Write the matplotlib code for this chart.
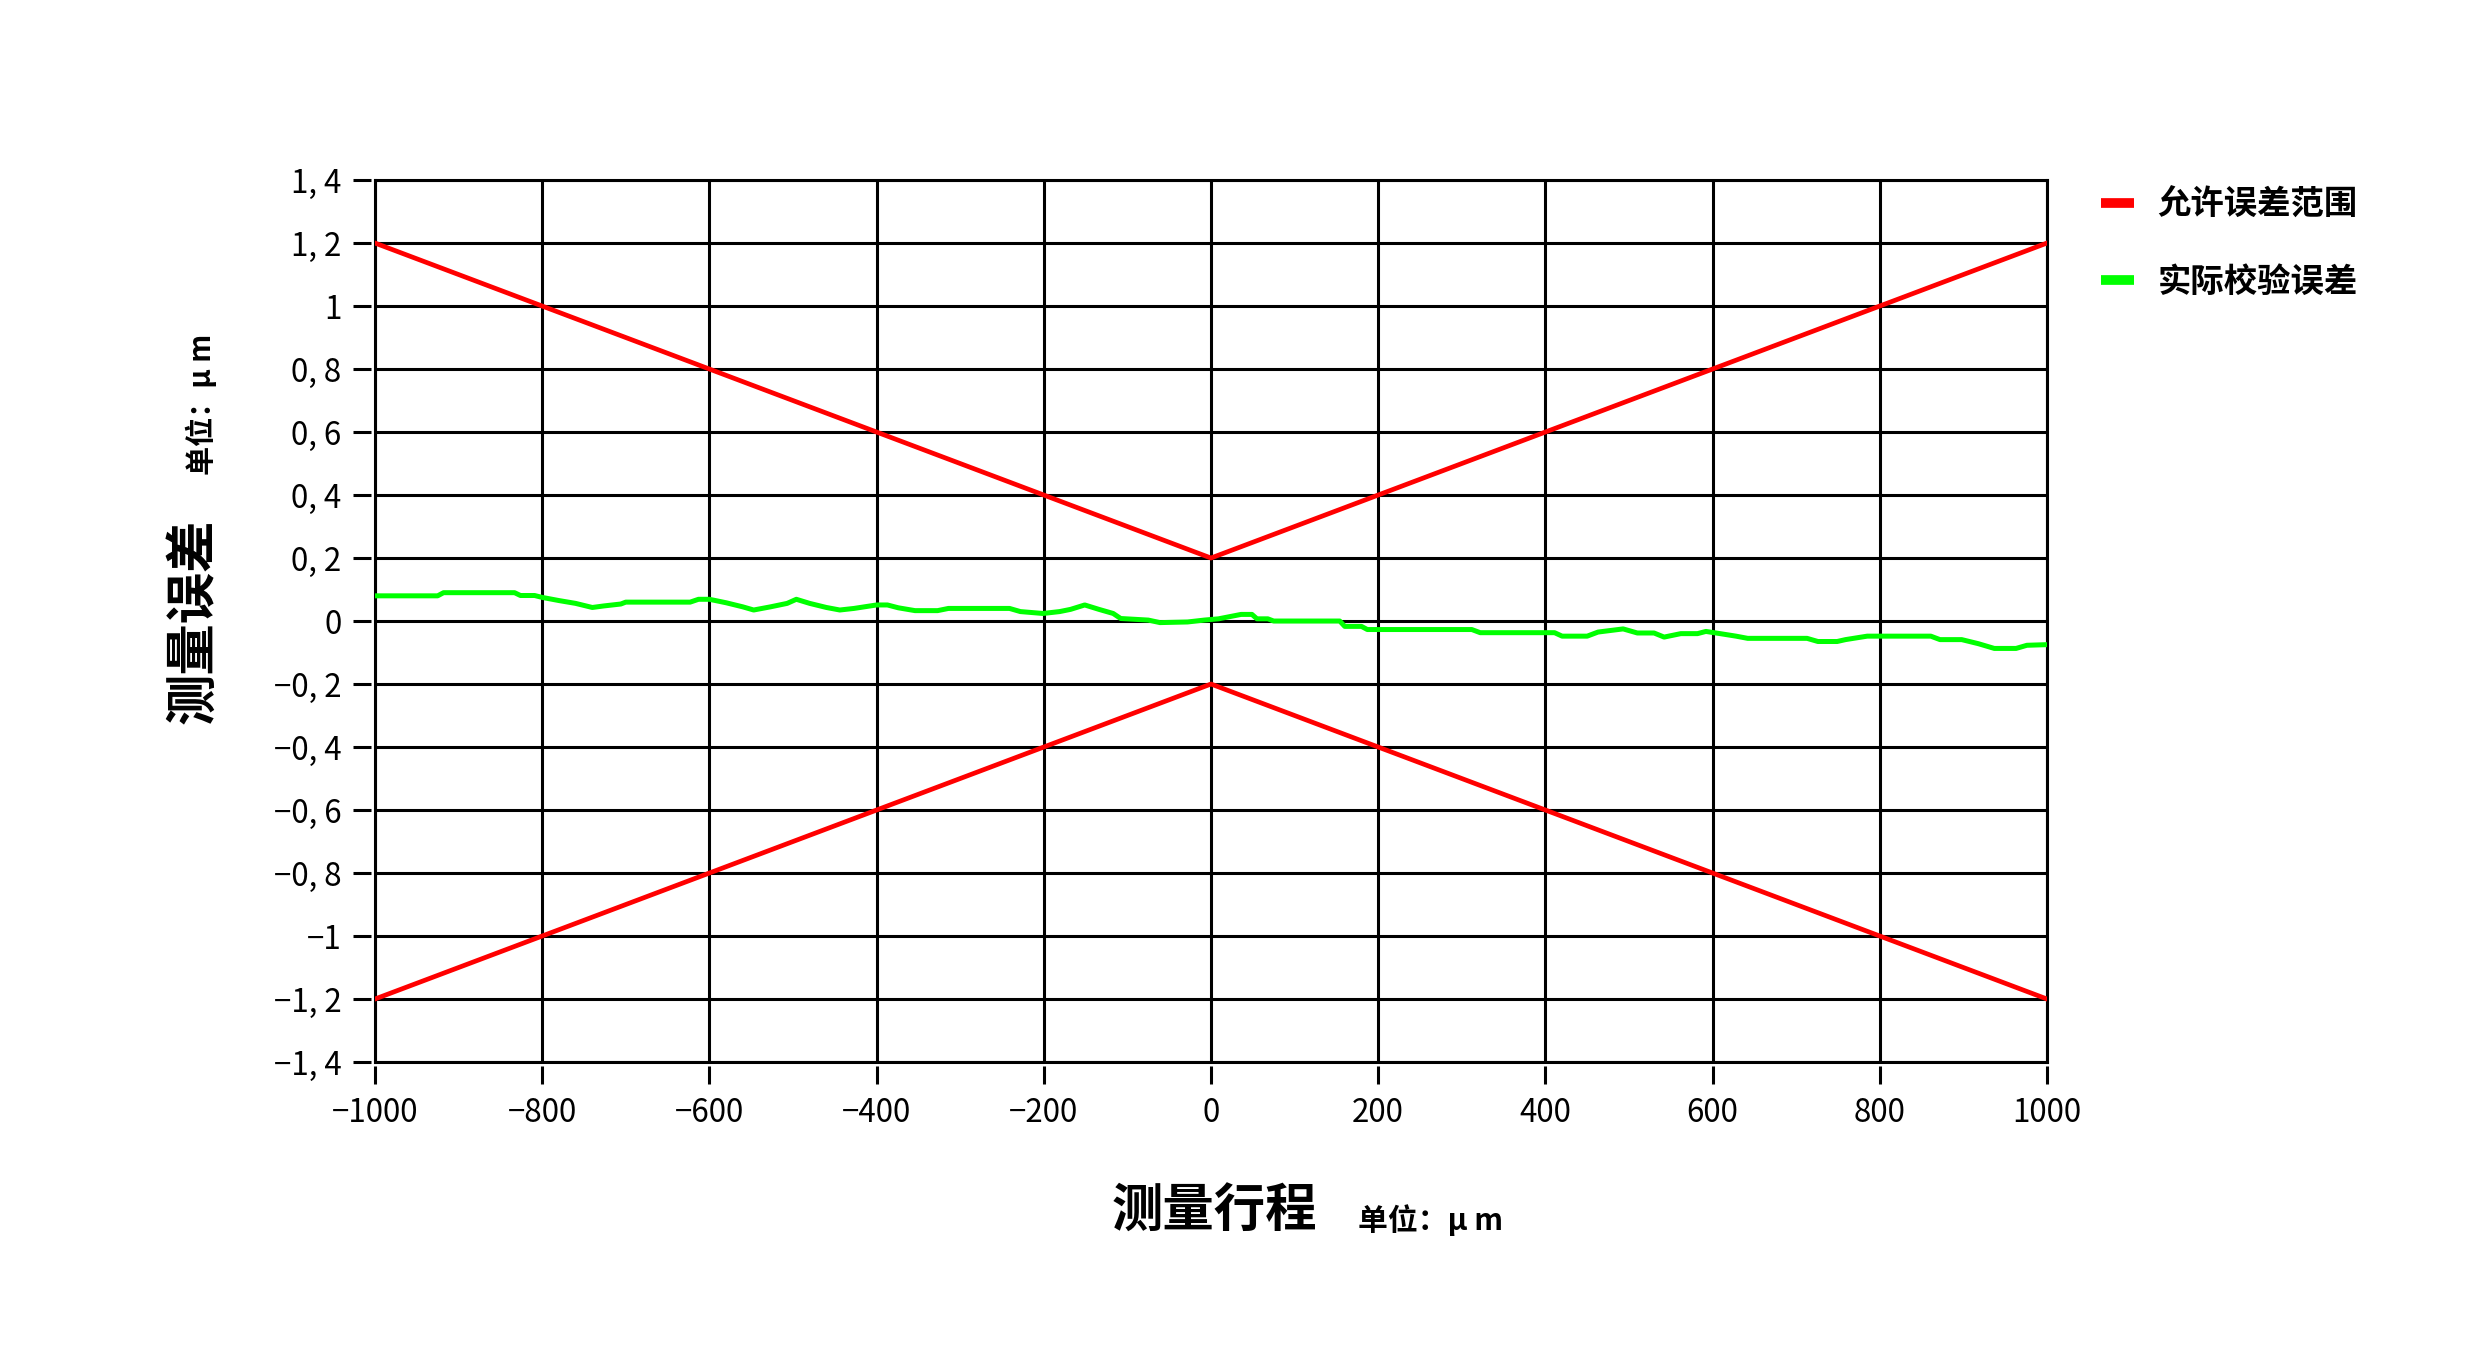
import numpy as np
import matplotlib.pyplot as plt

plt.rcParams['font.family'] = ['Noto Sans CJK SC', 'DejaVu Sans']

# 允许误差范围 (V shaped bounds)
limit_x = [-1000, 0, 1000]
limit_upper = [1.2, 0.2, 1.2]
limit_lower = [-1.2, -0.2, -1.2]

# 实际校验误差
check_x = [-1000, -925, -918, -833, -826, -809, -800, -780, -760, -740, -726, -706,
           -700, -623, -613, -600, -580, -560, -547, -527, -507, -496, -480, -460,
           -444, -427, -400, -387, -374, -354, -327, -314, -241, -228, -201, -181,
           -168, -151, -134, -117, -108, -75, -61, -28, -8,
           9, 36, 49, 55, 68, 75, 154, 160, 180, 187, 312, 322, 411, 420, 450,
           463, 493, 510, 530, 542, 562, 582, 592, 609, 628, 642, 713, 726, 749,
           759, 785, 861, 872, 898, 918, 937, 963, 976, 1000]
check_err = [0.080, 0.080, 0.090, 0.090, 0.081, 0.081, 0.075, 0.065, 0.056, 0.043, 0.048, 0.054,
             0.060, 0.060, 0.069, 0.069, 0.058, 0.045, 0.035, 0.045, 0.056, 0.069, 0.056, 0.043,
             0.035, 0.040, 0.051, 0.051, 0.042, 0.033, 0.033, 0.040, 0.040, 0.030, 0.024, 0.030,
             0.037, 0.051, 0.037, 0.024, 0.008, 0.003, -0.005, -0.003, 0.003,
             0.007, 0.021, 0.021, 0.007, 0.007, 0.000, 0.000, -0.017, -0.017, -0.027, -0.027,
             -0.037, -0.037, -0.048, -0.048,
             -0.035, -0.025, -0.038, -0.038, -0.051, -0.040, -0.040, -0.033, -0.040, -0.048,
             -0.055, -0.055, -0.065, -0.065,
             -0.059, -0.048, -0.048, -0.059, -0.059, -0.072, -0.087, -0.087, -0.077, -0.075]

x_ticks = np.arange(-1000, 1001, 200)
y_ticks = np.round(np.arange(-1.4, 1.41, 0.2), 1)


def fmt_y(v):
    if abs(v - round(v)) < 1e-9:
        s = str(int(round(abs(v))))
    else:
        s = f"{abs(v):.1f}".replace('.', ', ')
    return ('\u2212' + s) if v < 0 else s


def fmt_x(v):
    return ('\u2212' + str(abs(int(v)))) if v < 0 else str(int(v))


fig = plt.figure(figsize=(24.8, 13.67), dpi=100)
ax = fig.add_axes([0.1512, 0.2231, 0.8254 - 0.1512, 0.8683 - 0.2231])

ax.plot(limit_x, limit_upper, color='#ff0000', lw=3.4, zorder=3, label='允许误差范围')
ax.plot(limit_x, limit_lower, color='#ff0000', lw=3.4, zorder=3)
ax.plot(check_x, check_err, color='#00ff00', lw=3.6, zorder=4, label='实际校验误差')

ax.set_xlim(-1000, 1000)
ax.set_ylim(-1.4, 1.4)
ax.set_xticks(x_ticks)
ax.set_xticklabels([fmt_x(v) for v in x_ticks])
ax.set_yticks(y_ticks)
ax.set_yticklabels([fmt_y(v) for v in y_ticks])
ax.grid(True, color='black', lw=2.2, zorder=1)

# frame: top/right spines, left/bottom drawn as lines, ticks detached a bit
for side in ['top', 'right']:
    ax.spines[side].set_linewidth(2.2)
for side in ['left', 'bottom']:
    ax.spines[side].set_visible(False)
    ax.spines[side].set_position(('outward', 3))
ax.axvline(-1000, color='black', lw=2.2, clip_on=False, zorder=2)
ax.axhline(-1.4, color='black', lw=2.2, clip_on=False, zorder=2)

ax.tick_params(axis='both', direction='out', length=13, width=2.2, color='black',
               labelsize=22.5)
ax.tick_params(axis='y', pad=8)
ax.tick_params(axis='x', pad=9)

# axis titles
fig.text(193 / 2480, 1 - 621 / 1367, '测量误差', rotation=90, fontsize=37,
         fontweight='bold', ha='center', va='center')
fig.text(201 / 2480, 1 - 404 / 1367, '单位：μ m', rotation=90, fontsize=21,
         fontweight='bold', ha='center', va='center')
fig.text(1214 / 2480, 1 - 1211 / 1367, '测量行程', fontsize=37,
         fontweight='bold', ha='center', va='center')
fig.text(1358 / 2480, 1 - 1220 / 1367, '单位：μ m', fontsize=21.5,
         fontweight='bold', ha='left', va='center')

leg = fig.legend(loc='upper left', bbox_to_anchor=(2101 / 2480, 1 - 189 / 1367),
                 frameon=False, handlelength=1.0, handletextpad=0.7,
                 labelspacing=1.32, borderpad=0, borderaxespad=0,
                 prop={'weight': 'bold', 'size': 24})
for line in leg.get_lines():
    line.set_linewidth(7)
    line.set_solid_capstyle('butt')

fig.savefig('out.png', dpi=100)
